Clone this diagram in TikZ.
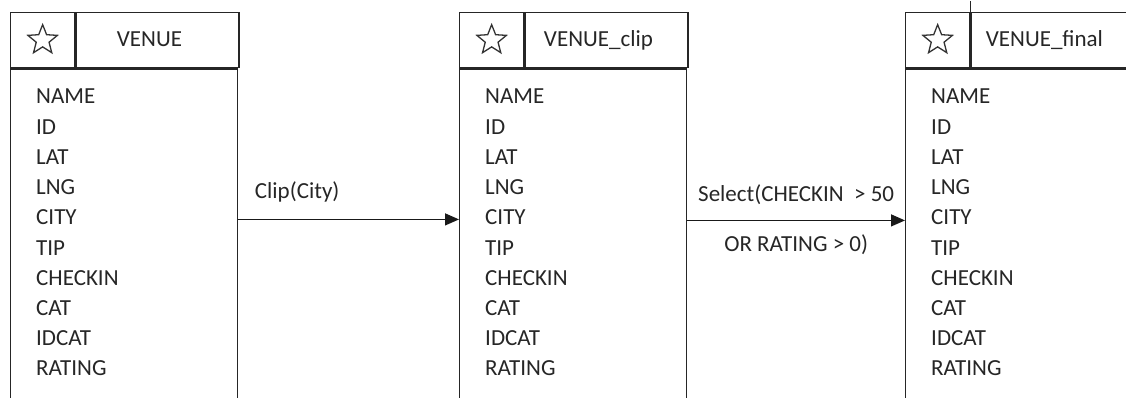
\documentclass[tikz,border=0pt]{standalone}
\usepackage{fontspec}
\setmainfont{Carlito}
\usetikzlibrary{arrows.meta,shapes.geometric}

\tikzset{
  frame/.style={draw=black!85, line width=1.3pt},
  iconcell/.style={frame, anchor=north west, inner sep=0pt, minimum width=64pt, minimum height=55pt},
  headcell/.style={frame, anchor=north west, inner sep=0pt, minimum width=163pt, minimum height=55pt},
  bodycell/.style={frame, anchor=north west, inner sep=0pt, minimum width=227pt, minimum height=380pt},
  keystar/.style={star, star points=5, star point ratio=2.3, draw=black!80, line width=1.3pt, minimum size=31pt, inner sep=0pt},
  title/.style={anchor=base, inner sep=0pt, text=black!85},
  field/.style={anchor=base west, inner sep=0pt, text=black!85},
  flow/.style={draw=black!90, line width=1.3pt, -{Triangle[length=14pt,width=12pt]}},
  flowlabel/.style={anchor=base, inner sep=0pt, text=black!85}
}

\begin{document}
\begin{tikzpicture}[x=1pt, y=-1pt, font=\fontsize{23}{27}\selectfont]
    \useasboundingbox (0,0) rectangle (1126,398);
    \clip (0,0) rectangle (1126,398);

    % tables
    \foreach \tab/\x/\name in {venue/10/VENUE, clip/459/VENUE\_clip, final/905/VENUE\_final}{
        \node[iconcell] (\tab-icon) at (\x,12) {};
        \node[keystar] (\tab-star) at (\tab-icon.center) {};
        \node[headcell] (\tab-head) at (\tab-icon.north east) {};
        \node[title] (\tab-title) at ([xshift=-8pt, yshift=-6pt]\tab-head.center) {\name};
        \node[bodycell] (\tab-body) at (\tab-icon.south west) {};
        \foreach \f [count=\i from 0] in {NAME,ID,LAT,LNG,CITY,TIP,CHECKIN,CAT,IDCAT,RATING}
            \node[field] (\tab-f\i) at (\x+26, {104+30.2*\i}) {\f};
    }
    \draw[frame] (final-icon.north east) -- ++(0,-11);

    % operations
    \draw[flow] ([yshift=-2pt]venue-body.east |- venue-f4) -- ([yshift=-2pt]clip-body.west |- venue-f4)
        node[pos=0, anchor=base west, inner sep=0pt, text=black!85, xshift=16pt, yshift=21pt] (clip-op) {Clip(City)};
    \draw[flow] ([yshift=-3pt]clip-body.east |- clip-f4) -- ([yshift=-3pt]final-body.west |- clip-f4)
        node[flowlabel, midway, yshift=19pt] (select-op) {Select(CHECKIN\ \ > 50}
        node[flowlabel, midway, yshift=-31pt] (select-op2) {OR RATING > 0)};
\end{tikzpicture}
\end{document}
